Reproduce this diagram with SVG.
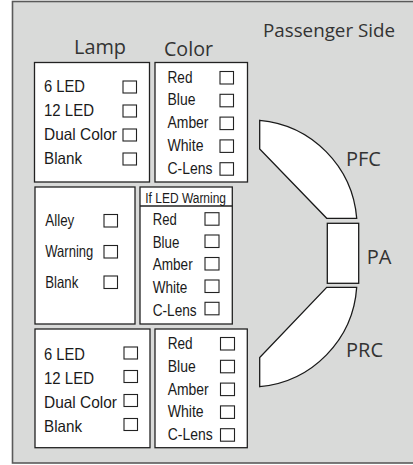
<svg xmlns="http://www.w3.org/2000/svg" width="413" height="465" viewBox="0 0 413 465">
<style>
.frame{fill:#d9dad9;stroke:#5a5a5a;stroke-width:1.6}
.box{fill:#fff;stroke:#222;stroke-width:1.3}
.cb{fill:#fff;stroke:#222;stroke-width:1.1}
.t{font-family:"Liberation Sans",Arial,sans-serif;font-size:16.5px;fill:#1a1a1a}
.tm{font-family:"Liberation Sans",Arial,sans-serif;font-size:16.5px;fill:#1a1a1a}
.ts{font-family:"Liberation Sans",Arial,sans-serif;font-size:14px;fill:#1a1a1a}
.h{font-family:"Open Sans","Noto Sans",sans-serif;font-size:20px;fill:#333}
.hs{font-family:"Open Sans","Noto Sans",sans-serif;font-size:18px;fill:#333}
.shape{fill:#fff;stroke:#1a1a1a;stroke-width:1.3}
</style>
<rect class="frame" x="12.5" y="1.5" width="405" height="461.5"/>
<text class="h" x="74" y="53.5" textLength="52" lengthAdjust="spacingAndGlyphs">Lamp</text>
<text class="h" x="164" y="55.5" textLength="49" lengthAdjust="spacingAndGlyphs">Color</text>
<text class="hs" x="263" y="37.3" textLength="132" lengthAdjust="spacingAndGlyphs">Passenger Side</text>

<g id="lamp-front">
<rect class="box" x="34.5" y="62.5" width="115" height="119.5"/>
<text class="t" x="44" y="92" textLength="41" lengthAdjust="spacingAndGlyphs">6 LED</text>
<text class="t" x="44" y="116" textLength="50" lengthAdjust="spacingAndGlyphs">12 LED</text>
<text class="t" x="44" y="140" textLength="73" lengthAdjust="spacingAndGlyphs">Dual Color</text>
<text class="t" x="44" y="164" textLength="38" lengthAdjust="spacingAndGlyphs">Blank</text>
<rect class="cb" x="123" y="81" width="13.5" height="12"/>
<rect class="cb" x="123" y="105" width="13.5" height="12"/>
<rect class="cb" x="123" y="129" width="13.5" height="12"/>
<rect class="cb" x="123" y="153" width="13.5" height="12"/>
</g>

<g id="color-front">
<rect class="box" x="155" y="62.5" width="92.5" height="119.5"/>
<text class="t" x="167.5" y="82.5" textLength="25" lengthAdjust="spacingAndGlyphs">Red</text>
<text class="t" x="167.5" y="105.3" textLength="28" lengthAdjust="spacingAndGlyphs">Blue</text>
<text class="t" x="167.5" y="128.1" textLength="41" lengthAdjust="spacingAndGlyphs">Amber</text>
<text class="t" x="167.5" y="150.9" textLength="36" lengthAdjust="spacingAndGlyphs">White</text>
<text class="t" x="167.5" y="173.7" textLength="45" lengthAdjust="spacingAndGlyphs">C-Lens</text>
<rect class="cb" x="220" y="71.5" width="13.5" height="12.5"/>
<rect class="cb" x="220" y="94.3" width="13.5" height="12.5"/>
<rect class="cb" x="220" y="117.1" width="13.5" height="12.5"/>
<rect class="cb" x="220" y="139.9" width="13.5" height="12.5"/>
<rect class="cb" x="220" y="162.7" width="13.5" height="12.5"/>
</g>

<g id="lamp-alley">
<rect class="box" x="35" y="187" width="100" height="137"/>
<text class="tm" x="45.3" y="226" textLength="29" lengthAdjust="spacingAndGlyphs">Alley</text>
<text class="tm" x="45.3" y="257" textLength="48" lengthAdjust="spacingAndGlyphs">Warning</text>
<text class="tm" x="45.3" y="288" textLength="33" lengthAdjust="spacingAndGlyphs">Blank</text>
<rect class="cb" x="104" y="214.5" width="13.5" height="12.5"/>
<rect class="cb" x="104" y="245.5" width="13.5" height="12.5"/>
<rect class="cb" x="104" y="276" width="13.5" height="12.5"/>
</g>

<g id="color-warning">
<rect class="box" x="140" y="187" width="92.3" height="137"/>
<line class="box" x1="140" y1="206" x2="232.3" y2="206"/>
<text class="ts" x="145.3" y="203" textLength="80.7" lengthAdjust="spacingAndGlyphs">If LED Warning</text>
<text class="t" x="152.7" y="225" textLength="24" lengthAdjust="spacingAndGlyphs">Red</text>
<text class="t" x="152.7" y="247.5" textLength="26.7" lengthAdjust="spacingAndGlyphs">Blue</text>
<text class="t" x="152.7" y="270" textLength="40" lengthAdjust="spacingAndGlyphs">Amber</text>
<text class="t" x="152.7" y="292.8" textLength="34.7" lengthAdjust="spacingAndGlyphs">White</text>
<text class="t" x="152.7" y="315.5" textLength="44" lengthAdjust="spacingAndGlyphs">C-Lens</text>
<rect class="cb" x="205" y="212.7" width="14" height="12.5"/>
<rect class="cb" x="205" y="235" width="14" height="12.5"/>
<rect class="cb" x="205" y="257.5" width="14" height="12.5"/>
<rect class="cb" x="205" y="280" width="14" height="12.5"/>
<rect class="cb" x="205" y="302.3" width="14" height="12.5"/>
</g>

<g id="lamp-rear">
<rect class="box" x="35" y="329" width="115" height="118.7"/>
<text class="t" x="44" y="360" textLength="41" lengthAdjust="spacingAndGlyphs">6 LED</text>
<text class="t" x="44" y="384" textLength="50" lengthAdjust="spacingAndGlyphs">12 LED</text>
<text class="t" x="44" y="408" textLength="73" lengthAdjust="spacingAndGlyphs">Dual Color</text>
<text class="t" x="44" y="432" textLength="38" lengthAdjust="spacingAndGlyphs">Blank</text>
<rect class="cb" x="124" y="347" width="13.5" height="12"/>
<rect class="cb" x="124" y="370.5" width="13.5" height="12"/>
<rect class="cb" x="124" y="394.5" width="13.5" height="12"/>
<rect class="cb" x="124" y="418.5" width="13.5" height="12"/>
</g>

<g id="color-rear">
<rect class="box" x="155" y="329" width="92.3" height="118.7"/>
<text class="t" x="167.7" y="349" textLength="25" lengthAdjust="spacingAndGlyphs">Red</text>
<text class="t" x="167.7" y="371.8" textLength="28" lengthAdjust="spacingAndGlyphs">Blue</text>
<text class="t" x="167.7" y="394.6" textLength="41" lengthAdjust="spacingAndGlyphs">Amber</text>
<text class="t" x="167.7" y="417.4" textLength="36" lengthAdjust="spacingAndGlyphs">White</text>
<text class="t" x="167.7" y="440.2" textLength="45" lengthAdjust="spacingAndGlyphs">C-Lens</text>
<rect class="cb" x="220.5" y="337.5" width="14" height="12.5"/>
<rect class="cb" x="220.5" y="360.3" width="14" height="12.5"/>
<rect class="cb" x="220.5" y="383.1" width="14" height="12.5"/>
<rect class="cb" x="220.5" y="405.9" width="14" height="12.5"/>
<rect class="cb" x="220.5" y="428.7" width="14" height="12.5"/>
</g>

<g id="PFC">
<path class="shape" d="M259.7,120.3 A107,107 0 0 1 356.7,218.3 L326.7,218.3 L259.7,149 Z"/>
<text class="h" x="346" y="166">PFC</text>
</g>
<g id="PA">
<rect class="shape" x="327.3" y="223.3" width="31.4" height="60"/>
<text class="h" x="366.7" y="264">PA</text>
</g>
<g id="PRC">
<path class="shape" d="M326.7,287.3 L356.7,287.3 A107,107 0 0 1 259.7,386.7 L259.7,357.5 Z"/>
<text class="h" x="346" y="356.7">PRC</text>
</g>
<g id="connectors"/>
</svg>
